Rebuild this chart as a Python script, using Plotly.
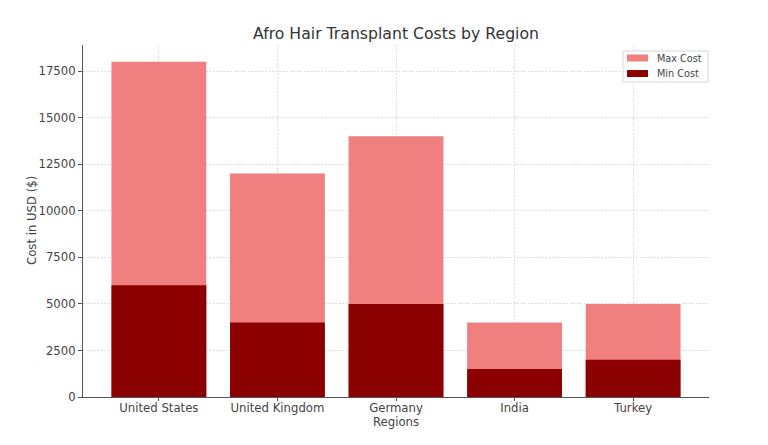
import plotly.graph_objects as go

regions = ["United States", "United Kingdom", "Germany", "India", "Turkey"]
max_cost = [18000, 12000, 14000, 4000, 5000]
min_cost = [6000, 4000, 5000, 1500, 2000]
y_ticks = [0, 2500, 5000, 7500, 10000, 12500, 15000, 17500]
series_names = ["Max Cost", "Min Cost"]
series_colors = ["#F08080", "#8B0000"]

fig = go.Figure()
fig.add_trace(go.Bar(x=regions, y=max_cost, name=series_names[0],
                     marker=dict(color=series_colors[0], line=dict(width=0)), width=0.8, showlegend=False))
fig.add_trace(go.Bar(x=regions, y=min_cost, name=series_names[1],
                     marker=dict(color=series_colors[1], line=dict(width=0)), width=0.8, showlegend=False))

# plot area in page pixels: x 83..709, y 45..397
PL, PR, PT, PB = 83, 709, 45, 397
def px(x):
    return (x - PL) / (PR - PL)
def py(y):
    return (PB - y) / (PB - PT)

shapes = [dict(type="rect", xref="paper", yref="paper", x0=px(623), x1=px(708), y0=py(82), y1=py(51),
               line=dict(color="#d8d8d8", width=1), fillcolor="rgba(255,255,255,0.85)", layer="above")]
annotations = []
for i, (nm, col) in enumerate(zip(series_names, series_colors)):
    yc = 58 + i * 15.5
    shapes.append(dict(type="rect", xref="paper", yref="paper", x0=px(627), x1=px(648),
                       y0=py(yc + 3.5), y1=py(yc - 3.5), line=dict(width=0), fillcolor=col, layer="above"))
    annotations.append(dict(text=nm, xref="paper", yref="paper", x=px(655), y=py(yc), xanchor="left",
                            yanchor="middle", showarrow=False, font=dict(size=9.7, color="#444444")))

annotations.append(dict(text="Cost in USD ($)", xref="paper", yref="paper", x=0, xshift=-(PL - 32), y=0.5,
                        textangle=-90, xanchor="center", yanchor="middle", showarrow=False,
                        font=dict(size=11.7, color="#444444")))
annotations.append(dict(text="Regions", xref="paper", yref="paper", x=0.5, y=0, yshift=-(422 - PB),
                        xanchor="center", yanchor="middle", showarrow=False,
                        font=dict(size=11.7, color="#444444")))

fig.update_layout(
    barmode="overlay",
    width=760, height=437,
    margin=dict(l=75, r=59, t=37, b=48, autoexpand=False),
    paper_bgcolor="white", plot_bgcolor="white",
    font=dict(family="DejaVu Sans", size=11.7, color="#444444"),
    title=dict(text="Afro Hair Transplant Costs by Region", x=0.5, xanchor="center", xref="paper",
               y=1 - 26/437, yanchor="middle", font=dict(size=15.7, color="#333333")),
    shapes=shapes, annotations=annotations,
    showlegend=False,
)
fig.update_xaxes(
    type="category", range=[-0.64, 4.64],
    showgrid=True, gridcolor="#dedede", griddash="2px,1.5px", gridwidth=1,
    showline=True, linecolor="#555555", linewidth=1,
    ticks="outside", ticklen=3, tickcolor="#555555", ticklabelstandoff=-3,
    layer="above traces", automargin=False,
)
fig.update_yaxes(
    range=[0, 18900], tickvals=y_ticks, ticktext=[str(v) for v in y_ticks],
    showgrid=True, gridcolor="#dedede", griddash="2px,1.5px", gridwidth=1,
    showline=True, linecolor="#555555", linewidth=1,
    ticks="outside", ticklen=4, tickcolor="#555555",
    zeroline=False,
    layer="above traces", automargin=False,
)
fig.write_html("out.html")
